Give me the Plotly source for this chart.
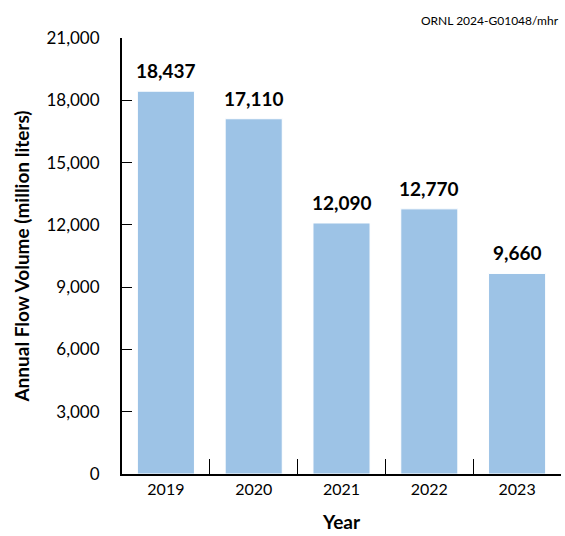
import plotly.graph_objects as go

years = ["2019", "2020", "2021", "2022", "2023"]
flow_volume = [18437, 17110, 12090, 12770, 9660]
y_ticks = [0, 3000, 6000, 9000, 12000, 15000, 18000, 21000]

FONT = "Lato"

fig = go.Figure(
    go.Bar(
        x=years,
        y=flow_volume,
        marker=dict(color="#9dc3e6", line=dict(color="white", width=1)),
    )
)

# value labels above each bar (category index on the x axis)
value_labels = [
    dict(
        x=i, y=v, xref="x", yref="y",
        text=f"<b>{v:,}</b>",
        showarrow=False,
        yanchor="bottom",
        yshift=7,
        font=dict(family=FONT, size=19, color="black"),
    )
    for i, v in enumerate(flow_volume)
]

fig.update_layout(
    width=565,
    height=536,
    margin=dict(l=122, r=4, t=38, b=62),
    plot_bgcolor="white",
    paper_bgcolor="white",
    bargap=0.35,
    showlegend=False,
    font=dict(family=FONT, color="black"),
    annotations=value_labels + [
        dict(
            text="ORNL 2024-G01048/mhr",
            xref="paper", yref="paper",
            x=1, y=1, xanchor="right", yanchor="bottom",
            yshift=8,
            showarrow=False,
            font=dict(family=FONT, size=12, color="black"),
        )
    ],
)

fig.update_xaxes(
    type="category",
    showline=True,
    linecolor="black",
    linewidth=2,
    ticks="inside",
    tickson="boundaries",
    ticklen=15,
    tickwidth=1,
    tickcolor="black",
    tickfont=dict(family=FONT, size=16),
    title=dict(text="<b>Year</b>", font=dict(family=FONT, size=19), standoff=18),
    showgrid=False,
)

fig.update_yaxes(
    range=[0, 21000],
    tickvals=y_ticks,
    ticktext=[f"{v:,}\u2002\u2002" for v in y_ticks],
    showline=True,
    linecolor="black",
    linewidth=2,
    ticks="inside",
    ticklen=10,
    tickwidth=1,
    tickcolor="black",
    tickfont=dict(family=FONT, size=17),
    title=dict(
        text="<b>Annual Flow Volume (million liters)</b>",
        font=dict(family=FONT, size=19),
        standoff=12,
    ),
    showgrid=False,
    zeroline=False,
)

fig.write_html("out.html")
